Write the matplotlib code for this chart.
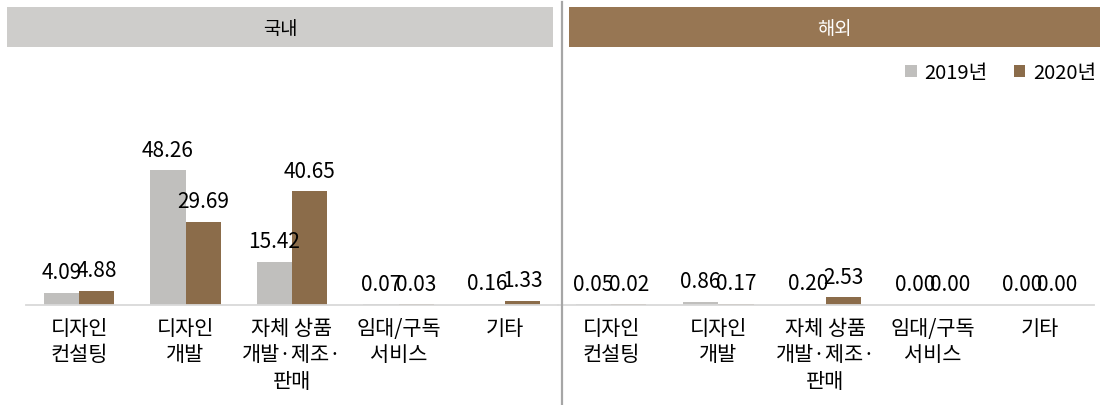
import numpy as np
from matplotlib import pyplot as plt
from matplotlib.patches import Rectangle

plt.rcParams['font.family'] = ['Noto Sans CJK KR', 'DejaVu Sans']

categories = ['디자인\n컨설팅', '디자인\n개발', '자체 상품\n개발·제조·\n판매', '임대/구독\n서비스', '기타']
years = ['2019년', '2020년']
domestic_2019 = [4.09, 48.26, 15.42, 0.07, 0.16]
domestic_2020 = [4.88, 29.69, 40.65, 0.03, 1.33]
overseas_2019 = [0.05, 0.86, 0.20, 0.00, 0.00]
overseas_2020 = [0.02, 0.17, 2.53, 0.00, 0.00]
panel_titles = ['국내', '해외']

W, H = 1106, 406
c19 = '#c0bfbd'
c20 = '#8b6c4a'
head_gray = '#cecdcb'
head_brown = '#977653'


def fx(px):
    return px / W


def fy(py):
    return 1 - py / H


fig = plt.figure(figsize=(W / 100, H / 100), dpi=100)

base_y = 305.5
top_y = 60
ymax = (base_y - top_y) / 2.78

panels = [
    (25.75, 558.25, domestic_2019, domestic_2020),
    (557.5, 1093.5, overseas_2019, overseas_2020),
]
x = np.arange(len(categories))
w = 0.33
axes = []
for left, right, v19, v20 in panels:
    ax = fig.add_axes([fx(left), fy(base_y), (right - left) / W, (base_y - top_y) / H])
    b1 = ax.bar(x - w / 2, v19, w, color=c19, label=years[0])
    b2 = ax.bar(x + w / 2, v20, w, color=c20, label=years[1])
    for b, vals in [(b1, v19), (b2, v20)]:
        ax.bar_label(b, labels=[f'{v:.2f}' for v in vals], padding=7, fontsize=15)
    ax.set_xlim(-0.5, len(categories) - 0.5)
    ax.set_ylim(0, ymax)
    ax.set_yticks([])
    ax.set_xticks(x)
    ax.set_xticklabels(categories, fontsize=15, linespacing=1.25)
    ax.tick_params(axis='x', length=0, pad=9)
    for s in ['top', 'left', 'right']:
        ax.spines[s].set_visible(False)
    ax.spines['bottom'].set_color('#d9d9d9')
    ax.spines['bottom'].set_linewidth(1.3)
    ax.patch.set_alpha(0)
    axes.append(ax)

# header bands
fig.add_artist(Rectangle((fx(7), fy(48)), (553 - 7) / W, 40 / H,
                         transform=fig.transFigure, color=head_gray, lw=0))
fig.add_artist(Rectangle((fx(569), fy(48)), (1100 - 569) / W, 40 / H,
                         transform=fig.transFigure, color=head_brown, lw=0))
fig.text(fx(280), fy(29), panel_titles[0], ha='center', va='center', fontsize=13.5, color='black')
fig.text(fx(834), fy(29), panel_titles[1], ha='center', va='center', fontsize=13.5, color='white')

# divider
fig.add_artist(plt.Line2D([fx(562), fx(562)], [fy(3), 0], transform=fig.transFigure,
                          color='#a6a6a6', lw=1.6))

handles, labels = axes[1].get_legend_handles_labels()
fig.legend(handles, labels, loc='center right', bbox_to_anchor=(fx(1096), fy(74)),
           ncol=2, frameon=False, fontsize=14.5, handlelength=0.55, handleheight=0.55,
           handletextpad=0.4, columnspacing=1.3, borderpad=0, borderaxespad=0)

fig.savefig('out.png', dpi=100)
